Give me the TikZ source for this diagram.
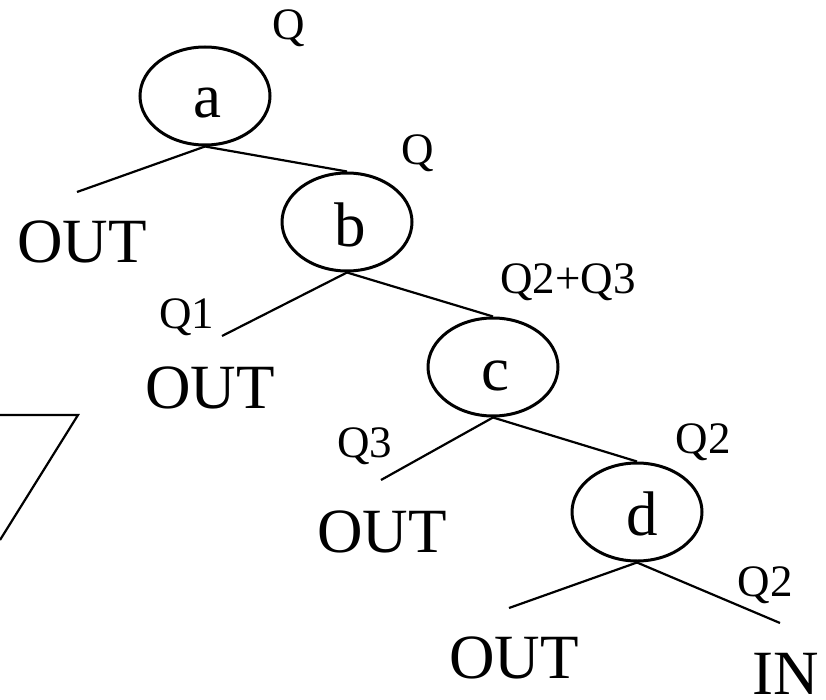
\documentclass[tikz,border=0pt]{standalone}
\usepackage{fontspec}
\setmainfont{Liberation Serif}
\usetikzlibrary{shapes.geometric}
\begin{document}
\begin{tikzpicture}[x=1pt,y=-1pt,
  vtx/.style={draw,ellipse,line width=3pt,minimum width=130pt,minimum height=98pt,inner sep=0pt},
  big/.style={anchor=base,inner sep=0pt,font=\fontsize{63}{63}\selectfont},
  small/.style={anchor=base,inner sep=0pt,font=\fontsize{45}{45}\selectfont},
  edge/.style={line width=2.2pt}]
\useasboundingbox[fill=white] (0,0) rectangle (826,700);
% vertices
\node[vtx] (a) at (205,96) {};
\node[vtx] (b) at (347,222) {};
\node[vtx] (c) at (493,367) {};
\node[vtx] (d) at (637,512) {};
\node[big] (la) at (207,118) {a};
\node[big] (lb) at (350,247) {b};
\node[big] (lc) at (495,390) {c};
\node[big] (ld) at (642,535) {d};
% leaf end points
\coordinate (ea) at (77,192);
\coordinate (eb) at (222,336);
\coordinate (ec) at (381,480);
\coordinate (ed) at (509,608);
\coordinate (ein) at (780,623);
% edges
\draw[edge] (a.south) -- (ea);
\draw[edge] (a.south) -- (b.north);
\draw[edge] (b.south) -- (eb);
\draw[edge] (b.south) -- (c.north);
\draw[edge] (c.south) -- (ec);
\draw[edge] (c.south) -- (d.north);
\draw[edge] (d.south) -- (ed);
\draw[edge] (d.south) -- (ein);
% labels
\node[small] (q0) at (289,40) {Q};
\node[small] (q1) at (418,165) {Q};
\node[small] (q2) at (568,293) {Q2+Q3};
\node[small] (q3) at (187,328) {Q1};
\node[small] (q4) at (365,457) {Q3};
\node[small] (q5) at (703,453) {Q2};
\node[small] (q6) at (765,596) {Q2};
\node[big] (o1) at (82,263) {OUT};
\node[big] (o2) at (210,408) {OUT};
\node[big] (o3) at (382,552) {OUT};
\node[big] (o4) at (514,678) {OUT};
\node[big] (in) at (786,694) {IN};
% partial shape at left edge
\coordinate (t1) at (0,415);
\coordinate (t2) at (78,415);
\coordinate (t3) at (0,540);
\draw[edge,line join=miter] (t1) -- (t2) -- (t3);
\end{tikzpicture}
\end{document}
